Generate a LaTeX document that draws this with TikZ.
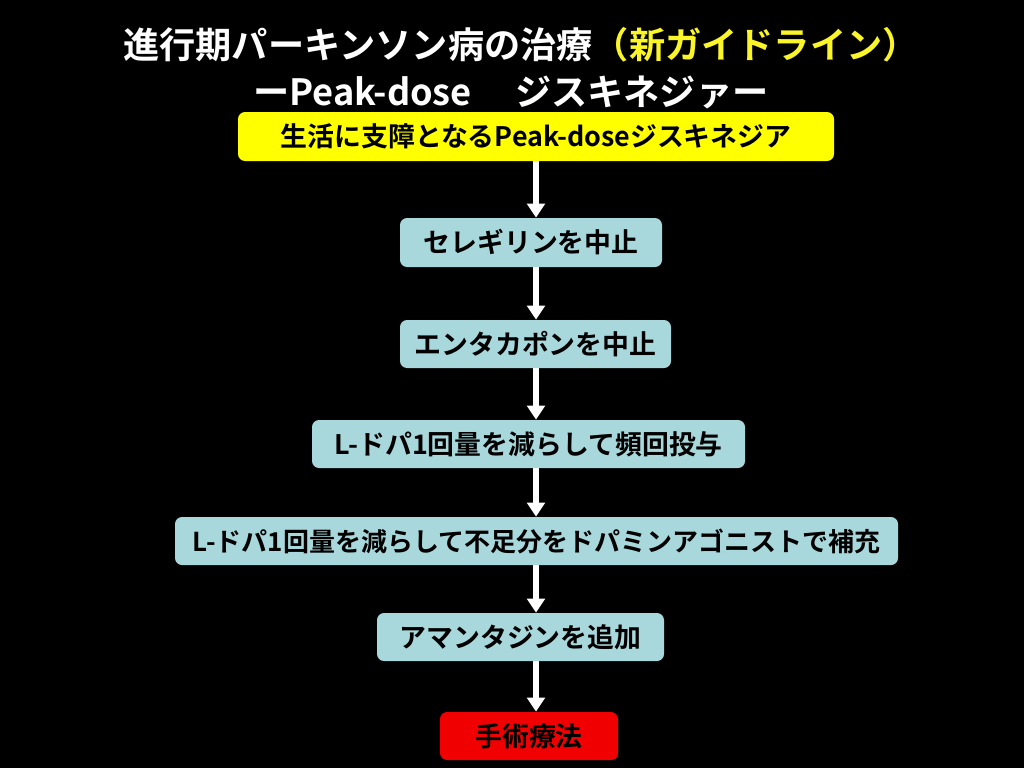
\documentclass[tikz,border=0pt]{standalone}
\usepackage{fontspec}
\setmainfont{Noto Sans CJK JP}[BoldFont={Noto Sans CJK JP Bold}]
\usetikzlibrary{arrows.meta}
\definecolor{boxblue}{RGB}{168,216,220}
\definecolor{boxyellow}{RGB}{255,255,0}
\definecolor{boxred}{RGB}{240,0,0}
\definecolor{titleyellow}{RGB}{250,245,40}
\begin{document}
\begin{tikzpicture}[x=0.02cm,y=-0.02cm,
  stepbox/.style={draw=none, rounded corners=4pt, inner sep=0pt, align=center,
    font=\bfseries\fontsize{15.3pt}{18pt}\selectfont, text=black},
  titletext/.style={inner sep=0pt, text=white, font=\bfseries\fontsize{20.6pt}{24pt}\selectfont},
  flow/.style={draw=white, line width=3.4pt, -{Triangle[width=10pt,length=8pt]}}]
\fill[black] (0,0) rectangle (1024,768);
\useasboundingbox (0,0) rectangle (1024,768);

\node[titletext] (t1) at (521,45) {進行期パーキンソン病の治療\textcolor{titleyellow}{（新ガイドライン）}};
\node[titletext] (t2) at (511,92) {ーPeak-dose\hspace{1.2em}ジスキネジァー};

\node[stepbox, fill=boxyellow, minimum width={596*0.02cm}, minimum height={49*0.02cm}] (n1) at (536,136.5) {生活に支障となるPeak-doseジスキネジア};
\node[stepbox, fill=boxblue, minimum width={262*0.02cm}, minimum height={49*0.02cm}] (n2) at (531,242.5) {セレギリンを中止};
\node[stepbox, fill=boxblue, minimum width={271*0.02cm}, minimum height={48*0.02cm}] (n3) at (535.5,344) {エンタカポンを中止};
\node[stepbox, fill=boxblue, minimum width={433*0.02cm}, minimum height={48*0.02cm}] (n4) at (528.5,444) {L-ドパ1回量を減らして頻回投与};
\node[stepbox, fill=boxblue, minimum width={723*0.02cm}, minimum height={48*0.02cm}, font=\bfseries\fontsize{14.8pt}{18pt}\selectfont] (n5) at (536.5,541) {L-ドパ1回量を減らして不足分をドパミンアゴニストで補充};
\node[stepbox, fill=boxblue, minimum width={287*0.02cm}, minimum height={48*0.02cm}] (n6) at (520.5,637) {アマンタジンを追加};
\node[stepbox, fill=boxred, minimum width={178*0.02cm}, minimum height={48*0.02cm}] (n7) at (529,736) {手術療法};

\coordinate (ax) at (536,0);
\draw[flow] (n1.south -| ax) -- (n2.north -| ax);
\draw[flow] (n2.south -| ax) -- (n3.north -| ax);
\draw[flow] (n3.south -| ax) -- (n4.north -| ax);
\draw[flow] (n4.south -| ax) -- (n5.north -| ax);
\draw[flow] (n5.south -| ax) -- (n6.north -| ax);
\draw[flow] (n6.south -| ax) -- (n7.north -| ax);
\end{tikzpicture}
\end{document}
